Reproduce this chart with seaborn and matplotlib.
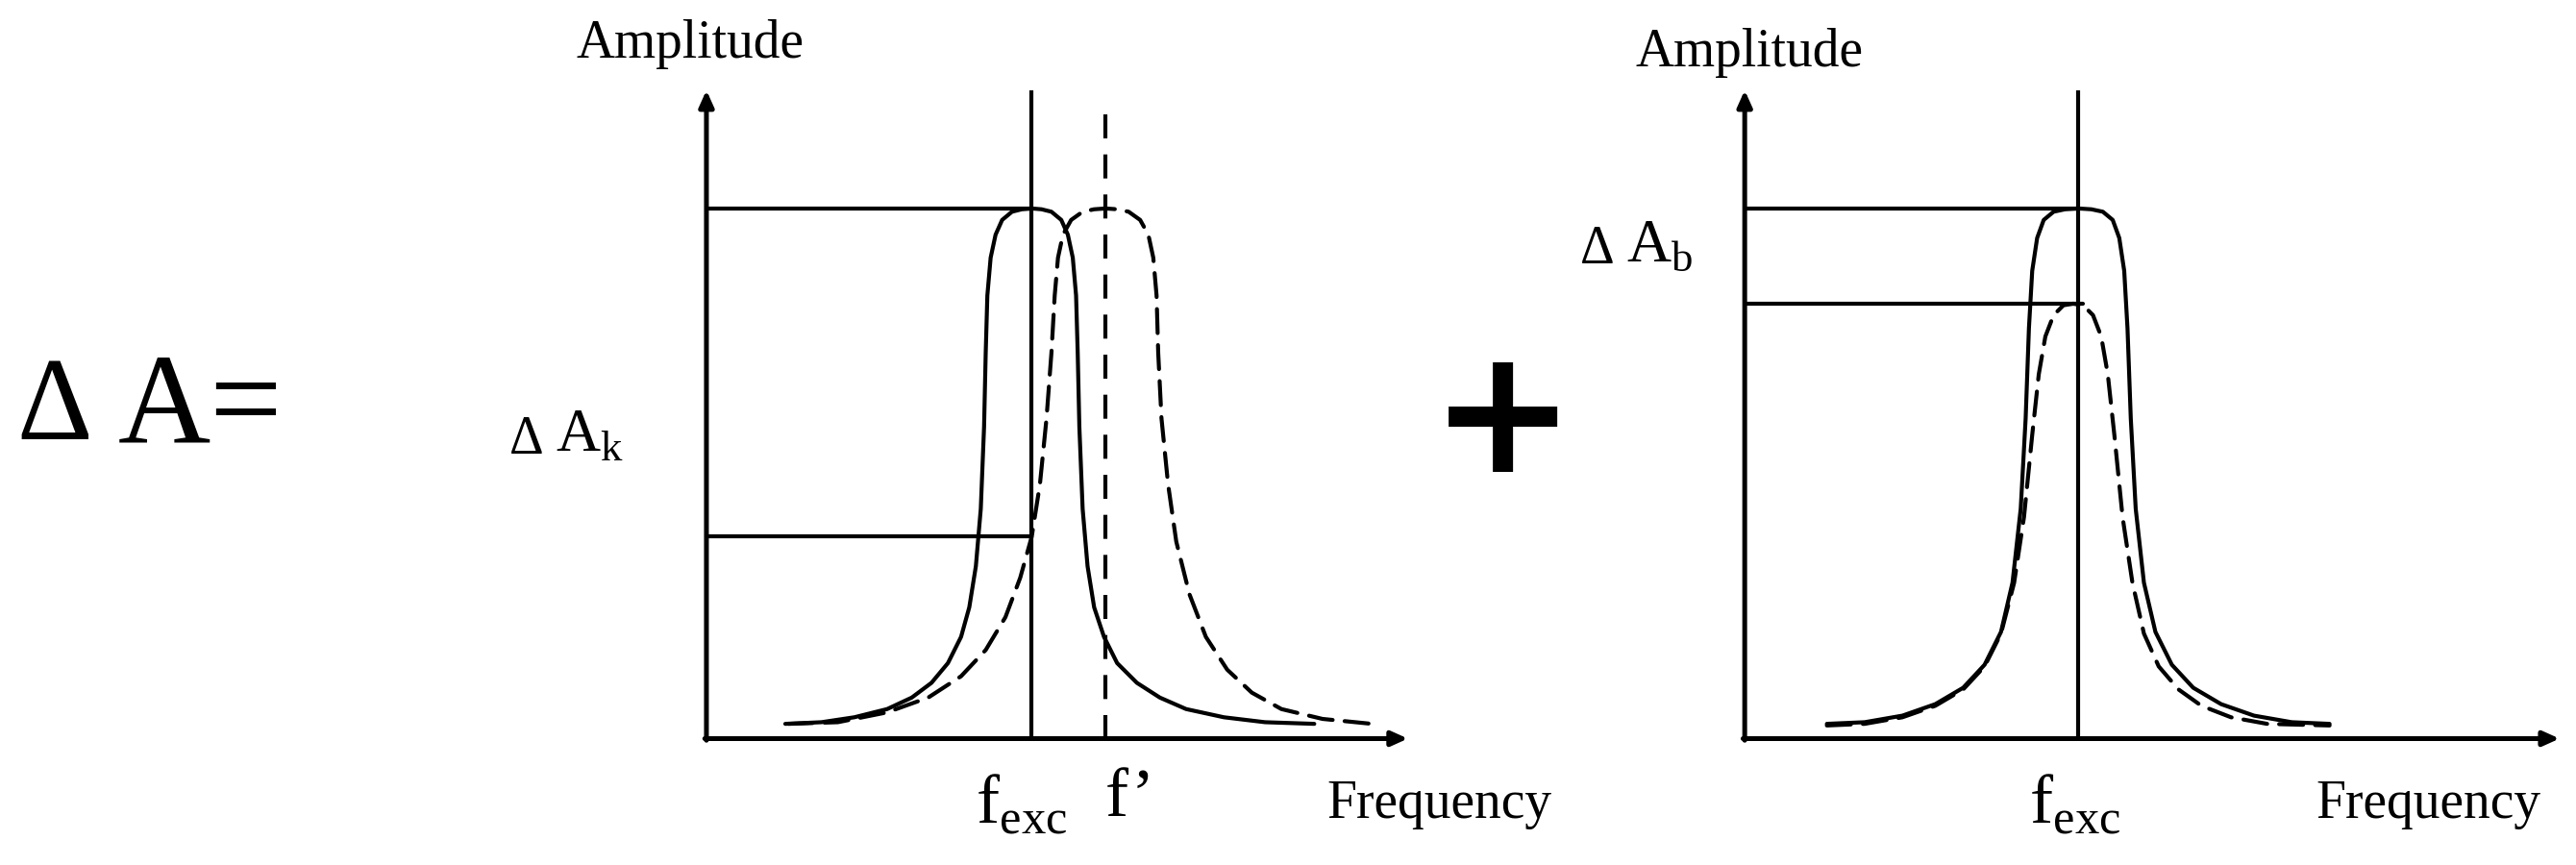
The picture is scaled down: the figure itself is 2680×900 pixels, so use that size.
import numpy as np
import pandas as pd
import matplotlib
matplotlib.use("Agg")
import matplotlib.pyplot as plt
import seaborn as sns

sns.set_style("white")
plt.rcParams['font.family'] = ['Liberation Serif', 'DejaVu Serif']
plt.rcParams['text.color'] = 'black'
plt.rcParams['mathtext.fontset'] = 'custom'
plt.rcParams['mathtext.rm'] = 'Liberation Serif'

# curve points (x, y in reference pixels, y down)
k_solid_x = [478, 500, 520, 540, 555, 567, 577, 585, 590, 594, 597, 599, 600, 601, 603, 606, 610, 616, 622, 628,
             634, 640, 646, 650, 653, 655, 656, 657, 659, 662, 666, 672, 680, 692, 706, 722, 745, 770, 800]
k_solid_y = [441, 440, 437, 432, 425, 416, 404, 388, 370, 345, 310, 260, 215, 180, 157, 143, 134, 129, 127.5, 127,
             127.5, 129, 134, 143, 157, 180, 215, 260, 310, 345, 370, 388, 404, 416, 425, 432, 437, 440, 441]
k_dash_x = [480, 510, 540, 565, 585, 600, 612, 621, 628, 633, 637, 640, 642, 644, 647, 652, 659, 666, 673,
            680, 687, 694, 699, 702, 704, 705, 707, 711, 716, 724, 734, 747, 762, 780, 805, 835]
k_dash_y = [441, 440, 434, 425, 412, 396, 376, 352, 327, 295, 255, 215, 180, 157, 143, 134, 129, 127.5, 127,
            127.5, 129, 134, 143, 157, 180, 215, 255, 295, 330, 362, 388, 408, 422, 432, 438, 441]
b_solid_x = [1112, 1135, 1158, 1178, 1195, 1208, 1218, 1225, 1230, 1233, 1235, 1237, 1240, 1244, 1250, 1257, 1265,
             1273, 1280, 1286, 1290, 1293, 1295, 1297, 1300, 1305, 1312, 1322, 1335, 1352, 1372, 1395, 1418]
b_solid_y = [441, 440, 436, 429, 419, 405, 385, 355, 310, 255, 200, 165, 145, 134, 129, 127.5, 127,
             127.5, 129, 134, 145, 165, 200, 255, 310, 355, 385, 405, 419, 429, 436, 440, 441]
b_dash_x = [1112, 1135, 1158, 1178, 1195, 1208, 1218, 1226, 1232, 1237, 1241, 1245, 1250, 1256, 1262,
            1268, 1274, 1279, 1283, 1287, 1292, 1298, 1305, 1314, 1326, 1340, 1358, 1380, 1418]
b_dash_y = [442, 441, 437, 430, 420, 406, 386, 355, 315, 265, 228, 205, 192, 186, 185,
            186, 192, 205, 228, 265, 315, 355, 386, 406, 420, 430, 437, 441, 442]

W, H = 1568.0, 527.0
fig = plt.figure(figsize=(26.8, 9), dpi=100)
LW = 3.0


def panel(x0, x1, base, top):
    ax = fig.add_axes([x0 / W, 1 - base / H, (x1 - x0) / W, (base - top) / H])
    ax.set_xlim(x0, x1)
    ax.set_ylim(base, top)
    ax.axis('off')
    style = '-|>,head_length=1.0,head_width=0.45'
    ax.annotate('', xy=(x0, top), xytext=(x0, base + 1),
                arrowprops=dict(arrowstyle=style, lw=3.6, color='black', shrinkA=0, shrinkB=0),
                annotation_clip=False)
    ax.annotate('', xy=(x1, base), xytext=(x0 - 1, base),
                arrowprops=dict(arrowstyle=style, lw=3.6, color='black', shrinkA=0, shrinkB=0),
                annotation_clip=False)
    return ax


def curve(ax, xs, ys, dashed):
    df = pd.DataFrame({'x': xs, 'y': ys})
    ls = (0, (6, 3)) if dashed else '-'
    sns.lineplot(data=df, x='x', y='y', sort=False, ax=ax, color='black', lw=LW,
                 linestyle=ls, estimator=None, solid_joinstyle='round', dash_capstyle='round')


# left panel
axk = panel(430, 857, 450, 55)
curve(axk, k_solid_x, k_solid_y, False)
curve(axk, k_dash_x, k_dash_y, True)
axk.plot([628, 628], [450, 55], color='black', lw=LW)
axk.plot([673, 673], [450, 65], color='black', lw=LW, linestyle=(0, (6, 4)))
axk.plot([430, 628], [127, 127], color='black', lw=LW)
axk.plot([430, 628], [327, 327], color='black', lw=LW)

# right panel
axb = panel(1062, 1558, 450, 55)
curve(axb, b_solid_x, b_solid_y, False)
curve(axb, b_dash_x, b_dash_y, True)
axb.plot([1265, 1265], [450, 55], color='black', lw=LW)
axb.plot([1062, 1265], [127, 127], color='black', lw=LW)
axb.plot([1062, 1268], [185, 185], color='black', lw=LW)


def t(x, y, s, size, **kw):
    fig.text(x / W, 1 - y / H, s, fontsize=size, color='black', **kw)


t(420, 27, 'Amplitude', 40, ha='center', va='center')
t(1065, 32, 'Amplitude', 40, ha='center', va='center')
t(876, 490, 'Frequency', 40, ha='center', va='center')
t(1478, 490, 'Frequency', 40, ha='center', va='center')
t(622, 490, r'$\mathrm{f}_{\mathrm{exc}}$', 52, ha='center', va='center')
t(688, 487, 'f\u2019', 52, ha='center', va='center')
t(1263, 490, r'$\mathrm{f}_{\mathrm{exc}}$', 52, ha='center', va='center')
t(310, 268, '\u0394', 40, ha='left', va='center')
t(338, 266, r'$\mathrm{A}_{\mathrm{k}}$', 46, ha='left', va='center')
t(962, 152, '\u0394', 40, ha='left', va='center')
t(990, 150, r'$\mathrm{A}_{\mathrm{b}}$', 46, ha='left', va='center')
t(10, 250, '\u0394', 88, ha='left', va='center')
t(72, 250, 'A=', 96, ha='left', va='center')
t(915, 258, '+', 130, ha='center', va='center', fontweight='bold', family=['DejaVu Sans'])

fig.savefig('out.png', dpi=100, facecolor='white')
